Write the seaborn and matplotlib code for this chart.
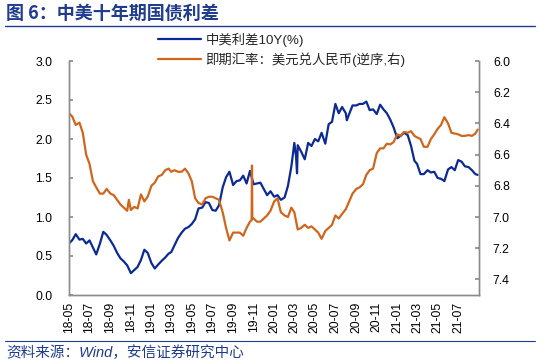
import numpy as np
import pandas as pd
import matplotlib
matplotlib.use("Agg")
import matplotlib.pyplot as plt
from matplotlib.lines import Line2D
import seaborn as sns

# ---------------- data ----------------
months = pd.period_range("2018-05", "2021-08", freq="M")
slot_days = [1, 11, 21]
grid_dates = [f"{p.year}-{p.month:02d}-{d:02d}" for p in months for d in slot_days]

# 中美利差10Y(%) - left axis, three readings per month
spread_vals = [
    0.66, 0.705, 0.78,   0.71, 0.72, 0.66,   0.70, 0.61, 0.52,   0.66, 0.81, 0.77,
    0.70, 0.63, 0.54,    0.47, 0.43, 0.38,   0.28, 0.32, 0.36,   0.45, 0.58, 0.54,
    0.41, 0.34, 0.39,    0.44, 0.48, 0.53,   0.55, 0.64, 0.73,   0.80, 0.85, 0.87,
    0.91, 0.97, 1.11,    1.12, 1.19, 1.18,   1.09, 1.08, 1.15,   1.38, 1.51, 1.58,
    1.41, 1.46, 1.47,    1.53, 1.43, 1.59,   1.42, 1.43, 1.44,   1.36, 1.28, 1.33,
    1.26, 1.28, 1.22,    1.25, 1.40, 1.645,  1.95, 1.92, 1.84,   1.74, 1.95, 1.91,
    2.00, 1.97, 2.08,    1.94, 2.19, 2.22,   2.45, 2.33, 2.41,   2.33, 2.32, 2.43,
    2.43, 2.45, 2.45,    2.48, 2.37, 2.38,   2.32, 2.44, 2.38,   2.33, 2.25, 2.15,
    2.01, 2.04, 2.08,    2.05, 1.91, 1.72,   1.68, 1.55, 1.55,   1.60, 1.57, 1.58,
    1.50, 1.49, 1.46,    1.61, 1.64, 1.60,   1.73, 1.71, 1.65,   1.64, 1.60, 1.55,
]
spread_extra_dates = ["2020-03-06", "2020-03-09", "2020-08-04", "2021-08-28"]
spread_extra_vals = [1.78, 1.56, 2.24, 1.54]

# 即期汇率 USD/CNY - right axis (inverted)
fx_vals = [
    6.335, 6.357, 6.41,  6.395, 6.46, 6.60,  6.66, 6.77, 6.81,   6.85, 6.85, 6.82,
    6.85, 6.86, 6.89,    6.92, 6.94, 6.96,   6.955, 6.935, 6.945, 6.855, 6.90, 6.87,
    6.80, 6.78, 6.74,    6.73, 6.70, 6.69,   6.71, 6.70, 6.71,   6.71, 6.69, 6.72,
    6.77, 6.88, 6.91,    6.92, 6.88, 6.87,   6.87, 6.88, 6.89,   6.97, 7.07, 7.15,
    7.10, 7.10, 7.10,    7.12, 7.07, 7.03,   7.01, 7.03, 7.03,   7.01, 6.99, 6.96,
    6.90, 6.88, 6.97,    6.99, 7.00, 6.94,   6.97, 7.08, 7.07,   7.05, 7.07, 7.06,
    7.08, 7.10, 7.14,    7.09, 7.07, 7.05,   6.99, 7.01, 6.98,   6.95, 6.90, 6.85,
    6.82, 6.81, 6.79,    6.73, 6.70, 6.69,   6.59, 6.56, 6.56,   6.53, 6.535, 6.52,
    6.47, 6.48, 6.455,   6.46, 6.45, 6.48,   6.49, 6.50, 6.55,   6.55, 6.50, 6.47,
    6.435, 6.41, 6.36,   6.40, 6.46, 6.465,  6.47, 6.48, 6.48,   6.475, 6.48, 6.465,
]
fx_extra_dates = ["2018-10-26", "2019-10-26", "2019-10-27", "2019-10-28", "2021-08-28"]
fx_extra_vals = [6.89, 7.02, 6.67, 7.01, 6.44]

left_ticks = [0.0, 0.5, 1.0, 1.5, 2.0, 2.5, 3.0]
right_ticks = [6.0, 6.2, 6.4, 6.6, 6.8, 7.0, 7.2, 7.4]
x_tick_labels = ["18-05", "18-07", "18-09", "18-11", "19-01", "19-03", "19-05",
                 "19-07", "19-09", "19-11", "20-01", "20-03", "20-05", "20-07",
                 "20-09", "20-11", "21-01", "21-03", "21-05", "21-07"]
label_spread = "中美利差10Y(%)"
label_fx = "即期汇率：美元兑人民币(逆序,右)"
title_text = "图 6：中美十年期国债利差"
source_text = "资料来源：Wind，安信证券研究中心"

df_spread = pd.DataFrame({
    "date": pd.to_datetime(grid_dates + spread_extra_dates),
    "value": spread_vals + spread_extra_vals,
}).sort_values("date")
df_fx = pd.DataFrame({
    "date": pd.to_datetime(grid_dates + fx_extra_dates),
    "value": fx_vals + fx_extra_vals,
}).sort_values("date")

# ---------------- style ----------------
sns.set_theme(style="white")
fam = ["Liberation Sans", "Noto Sans CJK SC", "DejaVu Sans"]
plt.rcParams["font.family"] = fam

BLUE = "#0B2A96"
ORANGE = "#D0661C"
TITLE_BLUE = "#1F3C8F"
SPINE = "#8C8C8C"

fig = plt.figure(figsize=(5.5, 3.62), dpi=100)
ax = fig.add_axes([69 / 550, 1 - 295 / 362, (479 - 69) / 550, (295 - 61) / 362])
ax2 = ax.twinx()

sns.lineplot(data=df_spread, x="date", y="value", ax=ax, color=BLUE,
             linewidth=1.6, label=label_spread, legend=False)
sns.lineplot(data=df_fx, x="date", y="value", ax=ax2, color=ORANGE,
             linewidth=1.6, label=label_fx, legend=False)

ax.set_xlim(pd.Timestamp("2018-05-01"), pd.Timestamp("2021-09-01"))
ax.set_ylim(0, 3.0)
ax2.set_ylim(7.5, 6.0)

ax.set_yticks(left_ticks)
ax.set_yticklabels([f"{v:.1f}" for v in left_ticks])
ax2.set_yticks(right_ticks)
ax2.set_yticklabels([f"{v:.1f}" for v in right_ticks])
xt = [pd.Timestamp("20" + s + "-01") for s in x_tick_labels]
ax.set_xticks(xt)
ax.set_xticklabels(x_tick_labels, rotation=90)

for a in (ax, ax2):
    a.set_xlabel("")
    a.set_ylabel("")
    a.grid(False)
    a.spines["top"].set_visible(False)
    for s in ("left", "right", "bottom"):
        a.spines[s].set_color(SPINE)
        a.spines[s].set_linewidth(1.0)

ax.tick_params(axis="y", direction="in", length=3, color=SPINE, labelsize=8.8,
               pad=12, labelcolor="black")
ax.tick_params(axis="x", direction="in", length=3, color=SPINE, labelsize=8.8,
               pad=5, labelcolor="black")
ax2.tick_params(axis="y", direction="in", length=3, color=SPINE, labelsize=8.8,
                pad=10, labelcolor="black")

# legend
handles = [Line2D([], [], color=BLUE, lw=1.6), Line2D([], [], color=ORANGE, lw=1.6)]
fig.legend(handles, [label_spread, label_fx], loc="upper left",
           bbox_to_anchor=(158 / 550, 1 - 33 / 362), frameon=False,
           fontsize=9.6, handlelength=3.2, handletextpad=0.35, labelspacing=0.4,
           borderpad=0, borderaxespad=0)

# title / source
fig.text(6 / 550, 1 - 13 / 362, title_text, fontsize=13, fontweight="bold",
         color=TITLE_BLUE, va="center", ha="left",
         family=["Noto Sans CJK SC", "DejaVu Sans"])
fig.add_artist(Line2D([5 / 550, 535 / 550], [1 - 26 / 362, 1 - 26 / 362],
                      color=TITLE_BLUE, lw=1.0))
fig.add_artist(Line2D([5 / 550, 535 / 550], [1 - 341 / 362, 1 - 341 / 362],
                      color=TITLE_BLUE, lw=0.8))
fig.text(6 / 550, 1 - 353 / 362, source_text, fontsize=10.5, style="italic",
         color=TITLE_BLUE, va="center", ha="left", family=fam)

fig.savefig("out.png", dpi=100)
